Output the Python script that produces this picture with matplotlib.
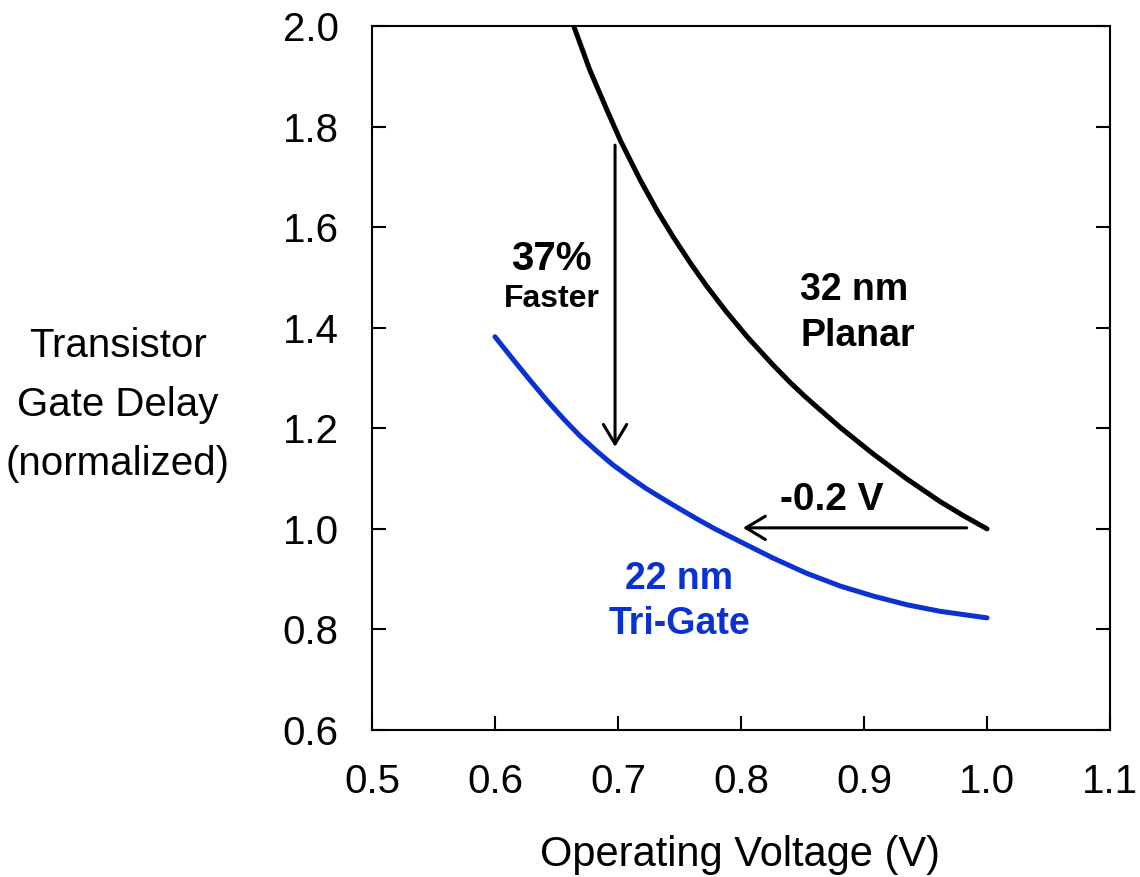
import matplotlib.pyplot as plt

# 32 nm planar curve
planar_v = [0.664, 0.677, 0.691, 0.702, 0.718, 0.732, 0.745, 0.759, 0.772, 0.788, 0.805,
            0.826, 0.840, 0.853, 0.881, 0.908, 0.935, 0.962, 0.981, 1.000]
planar_delay = [2.000, 1.913, 1.833, 1.772, 1.694, 1.632, 1.580, 1.528, 1.483, 1.432, 1.382,
                1.326, 1.291, 1.261, 1.201, 1.148, 1.099, 1.054, 1.026, 1.000]

# 22 nm tri-gate curve
trigate_v = [0.600, 0.615, 0.629, 0.642, 0.656, 0.669, 0.683, 0.696, 0.710, 0.723, 0.737,
             0.750, 0.764, 0.778, 0.799, 0.826, 0.853, 0.881, 0.908, 0.935, 0.962, 1.000]
trigate_delay = [1.382, 1.336, 1.294, 1.256, 1.218, 1.185, 1.154, 1.127, 1.102, 1.080, 1.059,
                 1.040, 1.020, 1.001, 0.975, 0.942, 0.912, 0.886, 0.866, 0.849, 0.836, 0.823]

xticks = [0.5, 0.6, 0.7, 0.8, 0.9, 1.0, 1.1]
yticks = [0.6, 0.8, 1.0, 1.2, 1.4, 1.6, 1.8, 2.0]

BLUE = '#0a32d2'

plt.rcParams['font.family'] = ['Liberation Sans', 'DejaVu Sans']

fig = plt.figure(figsize=(11.4, 8.77), dpi=100)
ax = fig.add_axes([0.3263, 0.1676, 0.6474, 0.8028])

ax.plot(planar_v, planar_delay, color='black', linewidth=3.6,
        solid_capstyle='round', solid_joinstyle='round')
ax.plot(trigate_v, trigate_delay, color=BLUE, linewidth=3.6,
        solid_capstyle='round', solid_joinstyle='round')

# arrows
head = '->,head_length=0.7,head_width=0.42'
ax.annotate('', xy=(0.6976, 1.163), xytext=(0.6976, 1.763),
            arrowprops=dict(arrowstyle=head, color='black', lw=2.2, mutation_scale=20,
                            shrinkA=0, shrinkB=0))
ax.annotate('', xy=(0.8016, 1.002), xytext=(0.9835, 1.002),
            arrowprops=dict(arrowstyle=head, color='black', lw=2.2, mutation_scale=20,
                            shrinkA=0, shrinkB=0))

# labels
ax.text(0.646, 1.537, '37%', fontsize=29, fontweight='bold', ha='center', va='center')
ax.text(0.646, 1.458, 'Faster', fontsize=23, fontweight='bold', ha='center', va='center')
ax.text(0.892, 1.474, '32 nm', fontsize=27, fontweight='bold', ha='center', va='center')
ax.text(0.895, 1.383, 'Planar', fontsize=27, fontweight='bold', ha='center', va='center')
ax.text(0.874, 1.058, '-0.2 V', fontsize=28, fontweight='bold', ha='center', va='center')
ax.text(0.75, 0.90, '22 nm', fontsize=27, fontweight='bold', ha='center', va='center', color=BLUE)
ax.text(0.75, 0.811, 'Tri-Gate', fontsize=27, fontweight='bold', ha='center', va='center', color=BLUE)

ax.set_xlim(0.5, 1.1)
ax.set_ylim(0.6, 2.0)
ax.set_xticks(xticks)
ax.set_xticklabels([f'{t:.1f}' for t in xticks])
ax.set_yticks(yticks)
ax.set_yticklabels([f'{t:.1f}' for t in yticks])

ax.tick_params(axis='both', direction='in', length=10, width=1.5, labelsize=29, pad=24)
ax.tick_params(axis='y', right=True)
for s in ax.spines.values():
    s.set_linewidth(1.5)

fig.text(740 / 1140, 1 - 855 / 877, 'Operating Voltage (V)', fontsize=30, ha='center', va='center')
fig.text(118 / 1140, 1 - 405 / 877, 'Transistor\nGate Delay\n(normalized)', fontsize=29,
         ha='center', va='center', linespacing=1.7)

fig.savefig('out.png', dpi=100)
